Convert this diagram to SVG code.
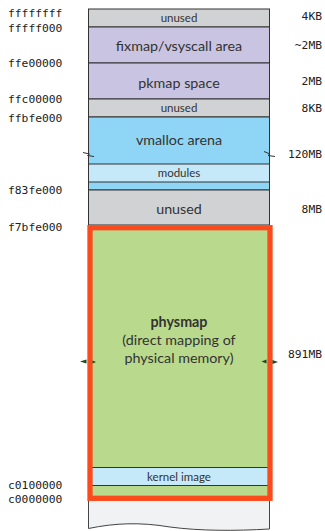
<svg xmlns="http://www.w3.org/2000/svg" width="325" height="531" viewBox="0 0 325 531">
<style>
.addr{font-family:"DejaVu Sans Mono","Liberation Mono",monospace;font-size:11.3px;fill:#222}
.size{font-family:"DejaVu Sans Mono","Liberation Mono",monospace;font-size:11.3px;fill:#222;text-anchor:end}
.lbl{font-family:Lato,"Liberation Sans",sans-serif;font-size:14.3px;fill:#333;text-anchor:middle}
.sm{font-family:Lato,"Liberation Sans",sans-serif;font-size:11.5px;fill:#333;text-anchor:middle}
.row{stroke:#333;stroke-width:1}
.gray{fill:#d1d2d4}
.purple{fill:#c8c4e2}
.blue{fill:#8fd5f6}
.lblue{fill:#c6e9f9}
.mark{fill:none;stroke:#333;stroke-width:1}
.arr{fill:#1d4a1d}
</style>
<rect width="325" height="531" fill="#fff"/>
<g id="addresses">
<text class="addr" x="8" y="17">ffffffff</text>
<text class="addr" x="8" y="32">fffff000</text>
<text class="addr" x="8" y="67">ffe00000</text>
<text class="addr" x="8" y="103">ffc00000</text>
<text class="addr" x="8" y="122">ffbfe000</text>
<text class="addr" x="8" y="194">f83fe000</text>
<text class="addr" x="8" y="231">f7bfe000</text>
<text class="addr" x="8" y="489">c0100000</text>
<text class="addr" x="8" y="503">c0000000</text>
</g>
<g id="sizes">
<text class="size" x="322" y="20">4KB</text>
<text class="size" x="322" y="49">~2MB</text>
<text class="size" x="322" y="85">2MB</text>
<text class="size" x="322" y="112">8KB</text>
<text class="size" x="322" y="158">120MB</text>
<text class="size" x="322" y="213">8MB</text>
<text class="size" x="322" y="358">891MB</text>
</g>
<g id="bottom-region">
<path d="M88.5,501 L269.5,501 L269.5,529 C235,531 200,531 170,527 C140,522 115,523 88.5,528.5 Z" fill="#f1f2f4"/>
<path d="M88.5,501 L88.5,528.5 C115,523 140,522 170,527 C200,531 235,531 269.5,529 L269.5,501" fill="none" stroke="#444" stroke-width="1"/>
</g>
<g id="unused-top">
<rect class="row gray" x="88.5" y="9" width="181" height="18"/>
<text class="sm" x="179" y="22">unused</text>
</g>
<g id="fixmap">
<rect class="row purple" x="88.5" y="27" width="181" height="36"/>
<text class="lbl" x="179" y="51">fixmap/vsyscall area</text>
</g>
<g id="pkmap">
<rect class="row purple" x="88.5" y="63" width="181" height="36"/>
<text class="lbl" x="179" y="87.5">pkmap space</text>
</g>
<g id="unused-8kb">
<rect class="row gray" x="88.5" y="99" width="181" height="18"/>
<text class="sm" x="179" y="112">unused</text>
</g>
<g id="vmalloc">
<rect class="row blue" x="88.5" y="117" width="181" height="73"/>
<text class="lbl" x="179" y="145">vmalloc arena</text>
</g>
<g id="modules">
<rect class="row lblue" x="88.5" y="164" width="181" height="18"/>
<text class="sm" x="179" y="177">modules</text>
</g>
<g id="unused-8mb">
<rect class="row gray" x="88.5" y="190" width="181" height="35"/>
<text class="lbl" x="179" y="214">unused</text>
</g>
<g id="physmap">
<rect x="88.5" y="225" width="181" height="276" fill="#b9d98c"/>
<text class="lbl" x="179" y="327" font-weight="bold">physmap</text>
<text class="lbl" x="179" y="345">(direct mapping of</text>
<text class="lbl" x="179" y="363">physical memory)</text>
</g>
<g id="kernel-image">
<rect class="row lblue" x="90" y="467.5" width="180" height="18"/>
<text class="sm" x="179" y="480.5">kernel image</text>
</g>
<g id="physmap-border">
<rect x="90" y="227.7" width="180" height="270.6" fill="none" stroke="#fc4a1c" stroke-width="5.3"/>
</g>
<g id="connectors">
<polyline class="mark" points="83,152.5 89.5,154 87.5,155.5 94,156.5"/>
<polyline class="mark" points="264,151.5 270,154 268,155.5 275,156.5"/>
<path class="arr" d="M80,361.5 L86.5,359.5 L86.5,363.5 Z"/>
<path class="arr" d="M96,362 L92.5,360.5 L92.5,363.5 Z"/>
<path class="arr" d="M261.5,361.5 L266.5,359.5 L266.5,363.5 Z"/>
<path class="arr" d="M278,362 L272.5,360 L272.5,364 Z"/>
</g>
</svg>
